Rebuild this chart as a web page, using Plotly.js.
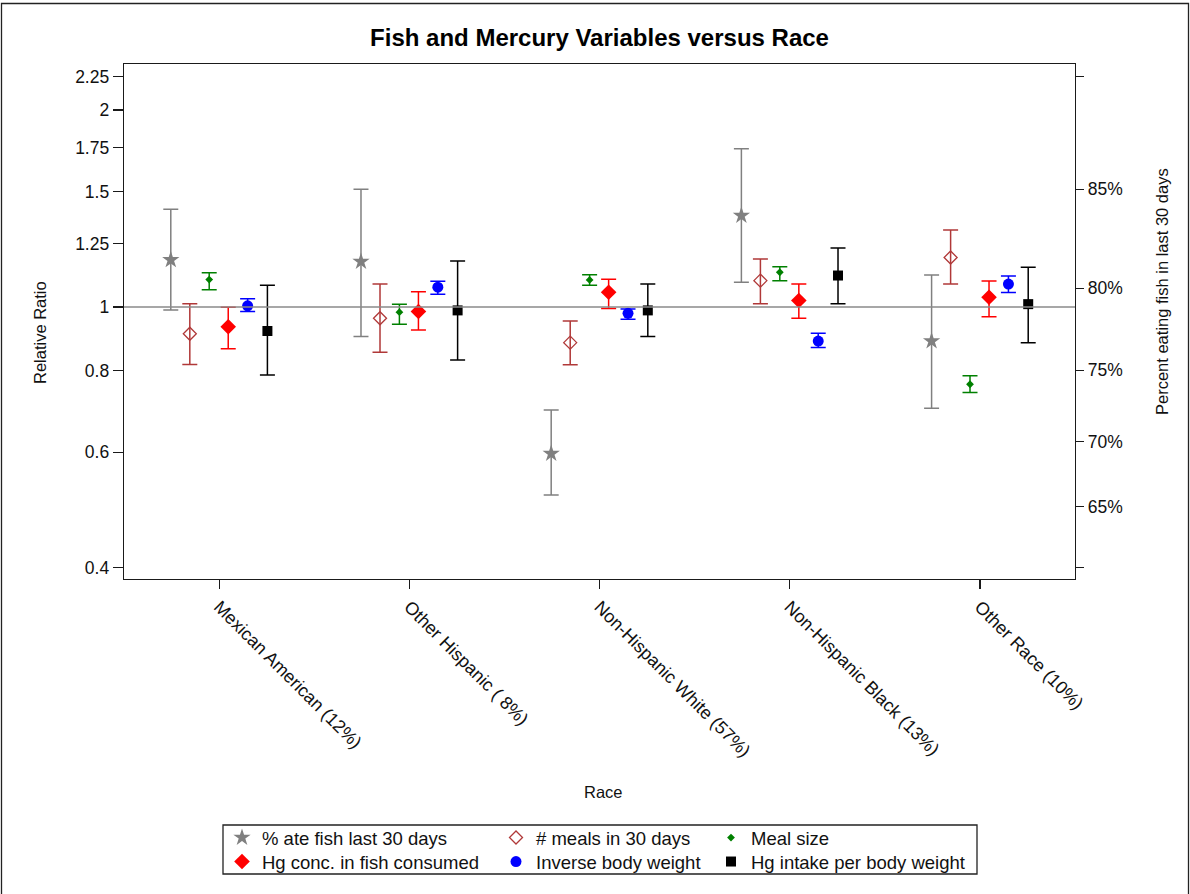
<!DOCTYPE html>
<html>
<head>
<meta charset="utf-8">
<script src="https://cdn.plot.ly/plotly-3.0.1.min.js"></script>
<style>html,body{margin:0;padding:0;background:#fff;}</style>
</head>
<body>
<div id="chart" style="width:1190px;height:894px;"></div>
<script>
// ---------- data ----------
const categories = ["Mexican American (12%)", "Other Hispanic ( 8%)", "Non-Hispanic White (57%)", "Non-Hispanic Black (13%)", "Other Race (10%)"];
const seriesNames = ["% ate fish last 30 days", "# meals in 30 days", "Meal size", "Hg conc. in fish consumed", "Inverse body weight", "Hg intake per body weight"];

const pctAteY  = [1.180, 1.173, 0.597, 1.379, 0.887];
const pctAteLo = [0.989, 0.901, 0.516, 1.091, 0.700];
const pctAteHi = [1.410, 1.513, 0.696, 1.745, 1.119];

const mealsY  = [0.910, 0.961, 0.882, 1.097, 1.190];
const mealsLo = [0.817, 0.853, 0.816, 1.011, 1.084];
const mealsHi = [1.011, 1.084, 0.952, 1.184, 1.311];

const mealSizeY  = [1.101, 0.982, 1.100, 1.130, 0.762];
const mealSizeLo = [1.062, 0.941, 1.079, 1.097, 0.740];
const mealSizeHi = [1.128, 1.010, 1.120, 1.152, 0.785];

const hgConcY  = [0.933, 0.984, 1.053, 1.023, 1.035];
const hgConcLo = [0.863, 0.922, 0.995, 0.961, 0.966];
const hgConcHi = [0.999, 1.055, 1.102, 1.084, 1.096];

const invBwY  = [1.004, 1.072, 0.978, 0.887, 1.084];
const invBwLo = [0.984, 1.046, 0.958, 0.867, 1.052];
const invBwHi = [1.029, 1.095, 0.993, 0.912, 1.115];

const hgIntakeY  = [0.919, 0.988, 0.988, 1.117, 1.010];
const hgIntakeLo = [0.787, 0.830, 0.901, 1.011, 0.882];
const hgIntakeHi = [1.079, 1.176, 1.084, 1.231, 1.150];

const leftTickVals = [0.4, 0.6, 0.8, 1, 1.25, 1.5, 1.75, 2, 2.25];
const leftTickText = ["0.4", "0.6", "0.8", "1", "1.25", "1.5", "1.75", "2", "2.25"];
const rightPercents = [65, 70, 75, 80, 85];
const refPercent = 78.93;   // percent corresponding to relative ratio 1 (odds scale)
const refRatio = 1;

const titleText = "Fish and Mercury Variables versus Race";
const xTitleText = "Race";
const yTitleText = "Relative Ratio";
const y2TitleText = "Percent eating fish in last 30 days";

// ---------- styles ----------
const FONT = "Liberation Sans, Arial, sans-serif";
const offsets = [-0.254, -0.154, -0.052, 0.048, 0.150, 0.254];
const styles = [
  {symbol: "star", color: "#808080", size: 13, line: 0},
  {symbol: "diamond-open", color: "#b03838", size: 10, line: 1.3},
  {symbol: "diamond", color: "#008000", size: 6, line: 0},
  {symbol: "diamond", color: "#ff0000", size: 12, line: 0},
  {symbol: "circle", color: "#0000ff", size: 11, line: 0},
  {symbol: "square", color: "#000000", size: 10, line: 0}
];
const ys = [pctAteY, mealsY, mealSizeY, hgConcY, invBwY, hgIntakeY];
const los = [pctAteLo, mealsLo, mealSizeLo, hgConcLo, invBwLo, hgIntakeLo];
const his = [pctAteHi, mealsHi, mealSizeHi, hgConcHi, invBwHi, hgIntakeHi];

// pixel geometry of plot area
const W = 1190, H = 894;
const L = 124, R = 1075, T = 64, B = 579;
const px2paperX = p => (p - L) / (R - L);
const px2paperY = p => (B - p) / (B - T);

const yRange = [-0.4156, 0.3712];
const xRange = [-0.5, 4.5];

const traces = [];
traces.push({
  x: xRange, y: [refRatio, refRatio], yaxis: "y2", mode: "lines",
  line: {color: "#8a8a8a", width: 1.5}, showlegend: false, hoverinfo: "skip"
});

const legendSymbolX = [248, 522, 737];
const legendRowY = [838, 862];
const layoutLegends = {};

seriesNames.forEach((name, s) => {
  const st = styles[s];
  const legendId = s === 0 ? "legend" : "legend" + (s + 1);
  traces.push({
    x: categories.map((c, i) => i + offsets[s]),
    y: ys[s],
    name: name,
    type: "scatter",
    mode: "markers",
    legend: legendId,
    marker: {
      symbol: st.symbol, color: st.color, size: st.size,
      line: {width: st.line, color: st.color}
    },
    error_y: {
      type: "data", symmetric: false,
      array: his[s].map((h, i) => h - ys[s][i]),
      arrayminus: ys[s].map((v, i) => v - los[s][i]),
      color: st.color, thickness: 1.5, width: 7.5
    }
  });
  const col = s % 3, row = Math.floor(s / 3);
  layoutLegends[legendId] = {
    xref: "container", yref: "container",
    x: (legendSymbolX[col] - 26) / W, y: 1 - legendRowY[row] / H,
    xanchor: "left", yanchor: "middle",
    orientation: "h", bgcolor: "rgba(0,0,0,0)", borderwidth: 0,
    font: {family: FONT, size: 18.5, color: "#111"}
  };
});

const odds = p => p / (100 - p);
const rightTickVals = [leftTickVals[0]].concat(rightPercents.map(p => odds(p) / odds(refPercent)), [leftTickVals[leftTickVals.length - 1]]);
const rightTickText = [""].concat(rightPercents.map(p => p + "%"), [""]);

const axisLine = "#1a1a1a";
const titleFont = {family: FONT, size: 16.5, color: "#111"};
const layout = Object.assign({
  width: W, height: H,
  margin: {l: L, r: W - R, t: T, b: H - B, pad: 0},
  paper_bgcolor: "#ffffff", plot_bgcolor: "#ffffff",
  font: {family: FONT, color: "#111"},
  showlegend: true,
  title: {
    text: titleText,
    font: {family: FONT, size: 24, weight: "bold", color: "#000"},
    xref: "paper", x: 0.5, xanchor: "center",
    yref: "container", y: 1 - 38 / H, yanchor: "middle"
  },
  xaxis: {
    range: xRange, tickmode: "array", tickvals: categories.map((c, i) => i), ticktext: categories,
    tickangle: 45, ticks: "outside", ticklen: 9, tickwidth: 1.2, tickcolor: axisLine,
    showline: true, linecolor: axisLine, linewidth: 1.3, mirror: true,
    showgrid: false, zeroline: false,
    tickfont: {family: FONT, size: 18, color: "#111"}
  },
  yaxis: {
    type: "log", range: yRange, tickmode: "array", tickvals: leftTickVals, ticktext: leftTickText,
    ticks: "outside", ticklen: 10, tickwidth: 1.2, tickcolor: axisLine,
    showline: true, linecolor: axisLine, linewidth: 1.3,
    showgrid: false, zeroline: false,
    tickfont: {family: FONT, size: 17.5, color: "#111"}
  },
  yaxis2: {
    type: "log", range: yRange, overlaying: "y", side: "right",
    tickmode: "array", tickvals: rightTickVals, ticktext: rightTickText,
    ticks: "outside", ticklen: 8, tickwidth: 1.2, tickcolor: axisLine,
    showline: true, linecolor: axisLine, linewidth: 1.3,
    showgrid: false, zeroline: false,
    tickfont: {family: FONT, size: 17.5, color: "#111"}
  },
  annotations: [
    {text: xTitleText, xref: "paper", yref: "paper", x: px2paperX(603), y: px2paperY(792),
     xanchor: "center", yanchor: "middle", showarrow: false, font: titleFont},
    {text: yTitleText, xref: "paper", yref: "paper", x: px2paperX(40), y: px2paperY(333),
     xanchor: "center", yanchor: "middle", textangle: -90, showarrow: false, font: titleFont},
    {text: y2TitleText, xref: "paper", yref: "paper", x: px2paperX(1162), y: px2paperY(292),
     xanchor: "center", yanchor: "middle", textangle: -90, showarrow: false, font: titleFont}
  ],
  shapes: [
    {type: "rect", xref: "paper", yref: "paper", layer: "above",
     x0: px2paperX(1.5), x1: px2paperX(1188.5), y0: px2paperY(900), y1: px2paperY(3.5),
     line: {color: "#222", width: 1.3}, fillcolor: "rgba(0,0,0,0)"},
    {type: "rect", xref: "paper", yref: "paper", layer: "above",
     x0: px2paperX(223), x1: px2paperX(977), y0: px2paperY(874), y1: px2paperY(825),
     line: {color: "#222", width: 1.3}, fillcolor: "rgba(0,0,0,0)"}
  ]
}, layoutLegends);

Plotly.newPlot("chart", traces, layout, {displayModeBar: false, staticPlot: true});
</script>
</body>
</html>
